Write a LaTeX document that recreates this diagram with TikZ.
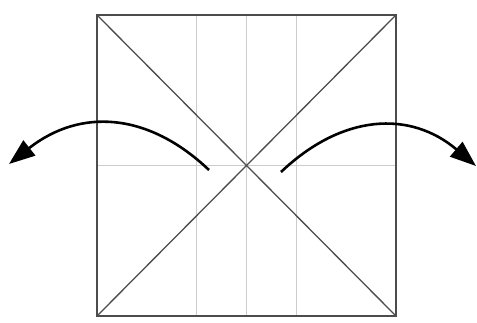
\documentclass[tikz,border=0pt]{standalone}
\usetikzlibrary{arrows.meta}
\begin{document}
\begin{tikzpicture}[x=1pt,y=-1pt,
  edge/.style={draw=black!70,line width=1.3pt},
  crease/.style={draw=black!20,line width=1pt},
  fold/.style={draw=black,line width=2.6pt,-{Triangle[length=26pt,width=19pt]}}]
\useasboundingbox (0,0) rectangle (477,322);
\coordinate (tl) at (97,15);
\coordinate (tr) at (396,15);
\coordinate (bl) at (97,316);
\coordinate (br) at (396,316);
\coordinate (v1t) at (196,15); \coordinate (v1b) at (196,316);
\coordinate (v2t) at (246,15); \coordinate (v2b) at (246,316);
\coordinate (v3t) at (296,15); \coordinate (v3b) at (296,316);
\coordinate (hl) at (97,165); \coordinate (hr) at (396,165);
\draw[crease] (v1t) -- (v1b);
\draw[crease] (v2t) -- (v2b);
\draw[crease] (v3t) -- (v3b);
\draw[crease] (hl) -- (hr);
\draw[edge] (tl) -- (br);
\draw[edge] (tr) -- (bl);
\draw[edge] (tl) -- (tr) -- (br) -- (bl) -- cycle;
\coordinate (a1s) at (209,170);
\coordinate (a1e) at (9,164);
\coordinate (a2s) at (281,172);
\coordinate (a2e) at (476,166);
\draw[fold] (a1s) .. controls (148,112) and (80,108) .. (a1e);
\draw[fold] (a2s) .. controls (342,114) and (410,110) .. (a2e);
\end{tikzpicture}
\end{document}
